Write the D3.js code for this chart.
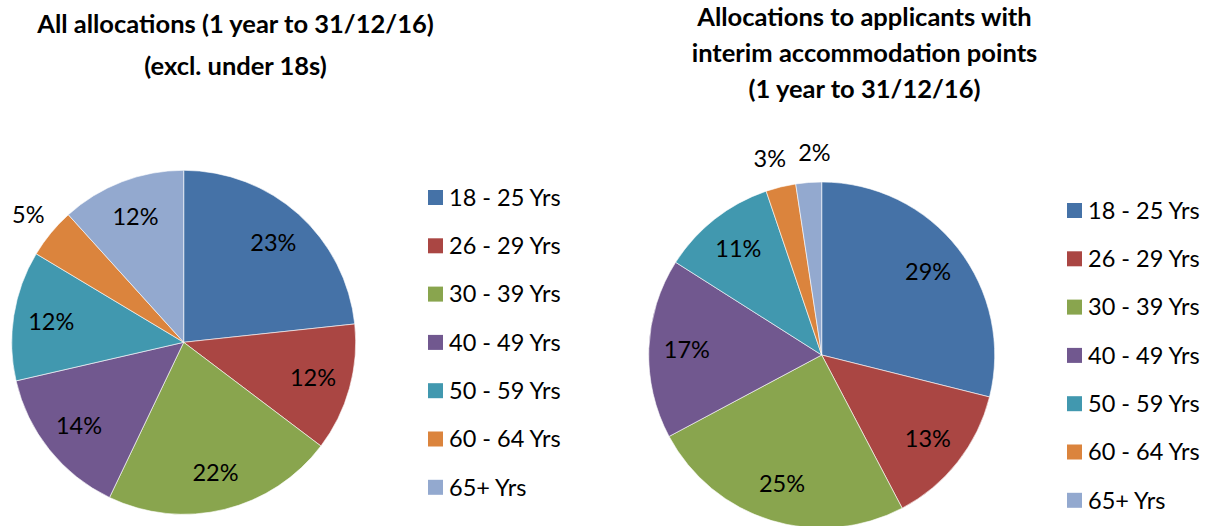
<!DOCTYPE html>
<html>
<head>
<meta charset="utf-8">
<script src="https://cdn.jsdelivr.net/npm/d3@7/dist/d3.min.js"></script>
<style>
  body { margin: 0; background: #fff; }
  svg { display: block; font-family: Lato, "Open Sans", sans-serif; }
</style>
</head>
<body>
<div id="chart"></div>
<script>
const categories = ['18 - 25 Yrs', '26 - 29 Yrs', '30 - 39 Yrs', '40 - 49 Yrs', '50 - 59 Yrs', '60 - 64 Yrs', '65+ Yrs'];
const allValues = [23.3, 12.0, 21.8, 14.3, 12.2, 4.7, 11.7];
const interimValues = [28.9, 13.4, 24.9, 16.8, 10.8, 2.8, 2.4];
const leftTitle = ['All allocations (1 year to 31/12/16)', '(excl. under 18s)'];
const rightTitle = ['Allocations to applicants with', 'interim accommodation points', '(1 year to 31/12/16)'];
const colours = ['#4572A7', '#AA4643', '#89A54E', '#71588F', '#4198AF', '#DB843D', '#93A9CF'];

const width = 1209, height = 526;
const svg = d3.select('#chart').append('svg')
  .attr('width', width)
  .attr('height', height);

const colorFn = d3.scaleOrdinal().domain(categories).range(colours);

// one pie with its title and legend
function drawPanel(values, title, opts) {
  const data = categories.map((c, i) => ({label: c, value: values[i]}));
  const total = d3.sum(values);
  const r = opts.radius;

  const pie = d3.pie().sort(null).value(d => d.value);
  const arc = d3.arc().innerRadius(0).outerRadius(r);
  const inLabel = d3.arc().innerRadius(r * 0.78).outerRadius(r * 0.78);
  const outLabel = d3.arc().innerRadius(r * 1.17).outerRadius(r * 1.17);

  const g = svg.append('g')
    .attr('transform', 'translate(' + opts.cx + ',' + opts.cy + ')');

  const slices = g.selectAll('.arc')
    .data(pie(data))
    .enter().append('g')
    .attr('class', 'arc');

  slices.append('path')
    .attr('d', arc)
    .attr('fill', d => colorFn(d.data.label))
    .attr('stroke', '#fff')
    .attr('stroke-width', 0.6);

  slices.append('text')
    .attr('transform', d => {
      const small = d.data.value / total < 0.06;
      const c = (small ? outLabel : inLabel).centroid(d);
      if (small && opts.nudge) c[0] += opts.nudge[d.index] || 0;
      return 'translate(' + c + ')';
    })
    .attr('text-anchor', 'middle')
    .attr('dy', '0.35em')
    .attr('font-size', 23.5)
    .attr('fill', '#000')
    .text(d => Math.round(d.data.value / total * 100) + '%');

  // title
  svg.append('g').selectAll('text')
    .data(title)
    .enter().append('text')
    .attr('x', opts.titleX)
    .attr('y', (d, i) => opts.titleY + i * opts.titleStep)
    .attr('text-anchor', 'middle')
    .attr('font-size', 25.5)
    .attr('font-weight', 'bold')
    .text(d => d);

  // legend
  const legend = svg.append('g')
    .attr('transform', 'translate(' + opts.legendX + ',' + opts.legendY + ')');
  const item = legend.selectAll('g')
    .data(categories)
    .enter().append('g')
    .attr('transform', (d, i) => 'translate(0,' + (i * 48.3) + ')');
  item.append('rect')
    .attr('width', 15)
    .attr('height', 15)
    .attr('fill', d => colorFn(d));
  item.append('text')
    .attr('x', 21)
    .attr('y', 7.5)
    .attr('dy', '0.35em')
    .attr('font-size', 23.5)
    .text(d => d);
}

drawPanel(allValues, leftTitle, {
  cx: 183.7, cy: 342.3, radius: 172,
  titleX: 235.5, titleY: 33, titleStep: 42,
  legendX: 428, legendY: 190
});

drawPanel(interimValues, rightTitle, {
  cx: 821.7, cy: 355, radius: 173,
  titleX: 864.5, titleY: 25.5, titleStep: 36,
  legendX: 1067, legendY: 203,
  nudge: {5: -4, 6: 8}
});
</script>
</body>
</html>
